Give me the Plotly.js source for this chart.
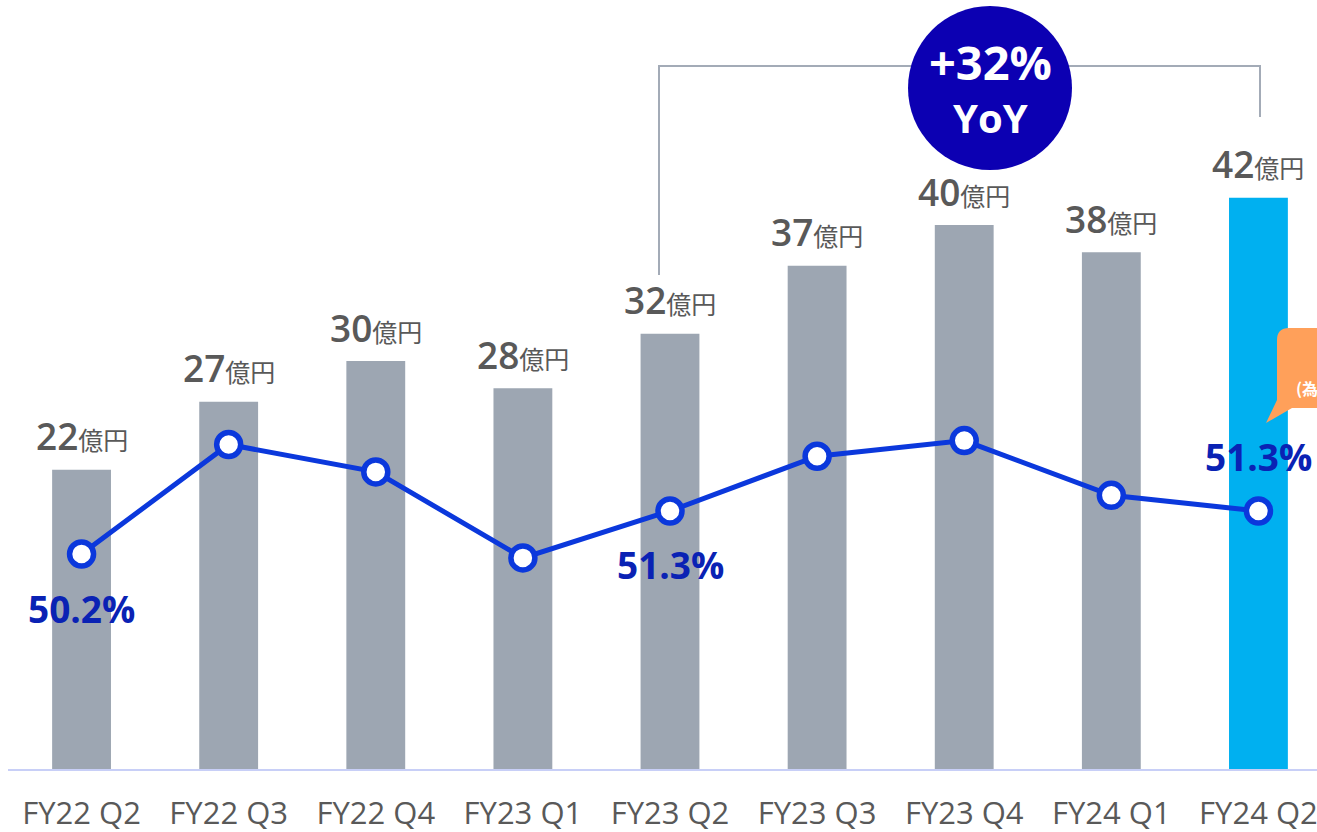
<!DOCTYPE html>
<html>
<head>
<meta charset="utf-8">
<script src="https://cdn.plot.ly/plotly-3.0.1.min.js"></script>
<style>
  html, body { margin: 0; padding: 0; overflow: hidden; background: #fff; }
  #chart { width: 1420px; height: 832px; }
</style>
</head>
<body>
<div id="chart"></div>
<script>
// quarterly sales (億円) and margin (%)
var quarters = ['FY22 Q2', 'FY22 Q3', 'FY22 Q4', 'FY23 Q1', 'FY23 Q2', 'FY23 Q3', 'FY23 Q4', 'FY24 Q1', 'FY24 Q2'];
var sales = [22, 27, 30, 28, 32, 37, 40, 38, 42];
var margins = [50.2, 53.0, 52.3, 50.1, 51.3, 52.7, 53.1, 51.7, 51.3];
var marginLabels = ['50.2%', '', '', '', '51.3%', '', '', '', '51.3%'];
var yoyText = '+32%';

var W = 1420, H = 832;
var M = {l: 8, r: 88, t: 0, b: 63};
var plotW = W - M.l - M.r, plotH = H - M.t - M.b;

// pixel -> paper helpers for the decorations
function px(x) { return (x - M.l) / plotW; }
function py(y) { return (M.t + plotH - y) / plotH; }

var barColors = sales.map(function (v, i) {
    return i === sales.length - 1 ? '#00B0F0' : '#9DA6B2';
});

var bars = {
    type: 'bar',
    x: quarters,
    y: sales,
    marker: {color: barColors},
    hoverinfo: 'none'
};

var line = {
    type: 'scatter',
    mode: 'lines+markers',
    x: quarters,
    y: margins,
    yaxis: 'y2',
    line: {color: '#0B38DC', width: 5},
    marker: {size: 24, color: '#ffffff', line: {color: '#0B38DC', width: 5.5}},
    hoverinfo: 'none'
};

var annotations = [];
for (var i = 0; i < quarters.length; i++) {
    annotations.push({
        x: quarters[i], y: sales[i], xref: 'x', yref: 'y',
        text: sales[i] + '<span style="font-size:25px;font-weight:400">億円</span>',
        showarrow: false, yanchor: 'middle', yshift: 34,
        font: {family: 'Open Sans, Noto Sans CJK JP', size: 37, weight: 600, color: '#595959'}
    });
    if (marginLabels[i]) {
        annotations.push({
            x: quarters[i], y: margins[i], xref: 'x', yref: 'y2',
            text: '<b>' + marginLabels[i] + '</b>',
            showarrow: false, yanchor: 'middle',
            yshift: i === quarters.length - 1 ? 54 : -54,
            font: {family: 'Open Sans', size: 37, color: '#0A22B4'}
        });
    }
}

// YoY bubble text
annotations.push({
    x: px(990), y: py(62), xref: 'paper', yref: 'paper',
    xanchor: 'center', yanchor: 'middle',
    text: '<b>' + yoyText + '</b>', showarrow: false,
    font: {family: 'Open Sans', size: 47, color: '#ffffff'}
});
annotations.push({
    x: px(990), y: py(118), xref: 'paper', yref: 'paper',
    xanchor: 'center', yanchor: 'middle',
    text: '<b>YoY</b>', showarrow: false,
    font: {family: 'Open Sans', size: 40, color: '#ffffff'}
});
// callout text (mostly outside the window)
annotations.push({
    x: px(1294), y: py(388), xref: 'paper', yref: 'paper',
    xanchor: 'left', yanchor: 'middle', text: '<b>(為替影響除く)</b>', showarrow: false,
    font: {family: 'Noto Sans CJK JP', size: 16, color: '#ffffff'}
});

var callout = 'M' + px(1289) + ',' + py(328) +
    ' L' + px(1400) + ',' + py(328) +
    ' L' + px(1400) + ',' + py(408) +
    ' L' + px(1292) + ',' + py(408) +
    ' L' + px(1266) + ',' + py(423) +
    ' L' + px(1277) + ',' + py(400) +
    ' L' + px(1277) + ',' + py(340) +
    ' Q' + px(1277) + ',' + py(328) + ' ' + px(1289) + ',' + py(328) + ' Z';

var shapes = [
    {
        type: 'path', xref: 'paper', yref: 'paper',
        path: 'M' + px(659) + ',' + py(275) + ' L' + px(659) + ',' + py(66) +
              ' L' + px(1260) + ',' + py(66) + ' L' + px(1260) + ',' + py(117),
        line: {color: '#A3ABB7', width: 2}
    },
    {
        type: 'circle', xref: 'paper', yref: 'paper',
        x0: px(908), x1: px(1072), y0: py(6), y1: py(170),
        fillcolor: '#0C00B2', line: {width: 0}
    },
    {
        type: 'path', xref: 'paper', yref: 'paper', path: callout,
        fillcolor: '#FFA05A', line: {width: 0}
    }
];

var layout = {
    width: W, height: H,
    margin: M,
    paper_bgcolor: '#ffffff',
    plot_bgcolor: '#ffffff',
    showlegend: false,
    bargap: 0.6,
    xaxis: {
        type: 'category',
        range: [-0.5, 8.5],
        showline: true, linecolor: '#C8CFF7', linewidth: 2,
        showgrid: false, zeroline: false, ticks: '',
        ticklabelstandoff: 16,
        tickfont: {family: 'Open Sans', size: 31, color: '#595959'}
    },
    yaxis: {
        range: [0, plotH / 13.6],
        visible: false, showgrid: false, zeroline: false
    },
    yaxis2: {
        overlaying: 'y',
        range: [50.2 - (769 - 554) / 39.1, 50.2 + 554 / 39.1],
        visible: false, showgrid: false, zeroline: false
    },
    shapes: shapes,
    annotations: annotations
};

Plotly.newPlot('chart', [bars, line], layout, {staticPlot: true});
</script>
</body>
</html>
